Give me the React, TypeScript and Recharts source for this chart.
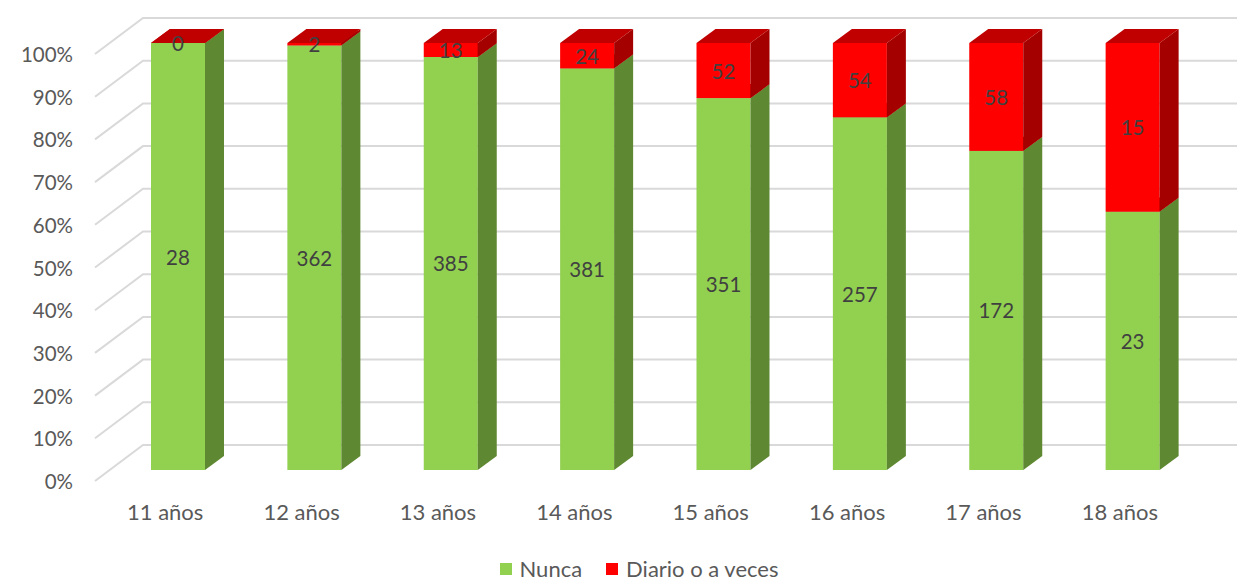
import { BarChart, Bar, XAxis, YAxis, CartesianGrid, Legend, LabelList } from 'recharts'

const categories = ['11 años', '12 años', '13 años', '14 años', '15 años', '16 años', '17 años', '18 años']
const nunca = [28, 362, 385, 381, 351, 257, 172, 23]
const diario = [0, 2, 13, 24, 52, 54, 58, 15]
const percentTicks = [0, 0.1, 0.2, 0.3, 0.4, 0.5, 0.6, 0.7, 0.8, 0.9, 1]

const data = categories.map((name, i) => ({ name, nunca: nunca[i], diario: diario[i] }))

const FONT = 'Lato, "Liberation Sans", sans-serif'
const TEXT = '#595959'
const DEPTH_X = 19
const DEPTH_Y = -14
const TOP_RED = '#c00000'

// 3D prism, like the Excel column: front face, right side, top
function Prism(props: any) {
    const { x, y, width: w, height: h, front, side, top } = props
    if (w == null || isNaN(x) || isNaN(y)) return null
    return (
        <g>
            <rect x={x} y={y} width={w} height={Math.max(h, 0)} fill={front} />
            <polygon
                points={`${x + w},${y} ${x + w + DEPTH_X},${y + DEPTH_Y} ${x + w + DEPTH_X},${y + h + DEPTH_Y} ${x + w},${y + h}`}
                fill={side}
            />
            <polygon
                points={`${x},${y} ${x + DEPTH_X},${y + DEPTH_Y} ${x + w + DEPTH_X},${y + DEPTH_Y} ${x + w},${y}`}
                fill={top}
            />
        </g>
    )
}

// floor diagonal + back wall line for each gridline
function GridLine(props: any) {
    const { y1, x2 } = props
    return (
        <g key={props.key}>
            <polyline
                points={`95,${y1 + 11} 143,${y1 - 25} ${x2 + 36},${y1 - 25}`}
                fill="none"
                stroke="#d9d9d9"
                strokeWidth={2}
            />
        </g>
    )
}

function YTick(props: any) {
    const { y, payload } = props
    return (
        <text x={73} y={y + 11} textAnchor="end" dominantBaseline="central" fontFamily={FONT} fontSize={20.5} fill={TEXT}>
            {Math.round(payload.value * 100)}%
        </text>
    )
}

function XTick(props: any) {
    const { x, y, payload } = props
    return (
        <text x={x - 13} y={y + 33} textAnchor="middle" dominantBaseline="central" fontFamily={FONT} fontSize={22} fill={TEXT}>
            {payload.value}
        </text>
    )
}

function CenterLabel(props: any) {
    const { x, y, width, height, value } = props
    return (
        <text
            x={x + width / 2}
            y={y + height / 2}
            textAnchor="middle"
            dominantBaseline="central"
            fontFamily={FONT}
            fontSize={20.5}
            fill="#404040"
        >
            {value}
        </text>
    )
}

function LegendContent() {
    const items = [
        { label: 'Nunca', color: '#92d050' },
        { label: 'Diario o a veces', color: '#ff0000' },
    ]
    return (
        <div
            style={{
                display: 'flex',
                justifyContent: 'center',
                gap: 24,
                paddingLeft: 36,
                fontFamily: FONT,
                fontSize: 22,
                color: TEXT,
            }}
        >
            {items.map((it) => (
                <div key={it.label} style={{ display: 'flex', alignItems: 'center' }}>
                    <span style={{ width: 12, height: 12, background: it.color, marginRight: 8, display: 'inline-block' }} />
                    {it.label}
                </div>
            ))}
        </div>
    )
}

export default function App() {
    return (
        <div style={{ position: 'absolute', left: 0, top: 0, width: 1242, height: 584, background: '#fff' }}>
            <BarChart
                width={1242}
                height={584}
                data={data}
                stackOffset="expand"
                barSize={54}
                margin={{ top: 43, right: 41, bottom: 64, left: 0 }}
            >
                <CartesianGrid vertical={false} horizontal={GridLine} />
                <XAxis dataKey="name" axisLine={false} tickLine={false} height={50} tick={<XTick />} interval={0} />
                <YAxis
                    width={110}
                    domain={[0, 1]}
                    ticks={percentTicks}
                    axisLine={false}
                    tickLine={false}
                    tick={<YTick />}
                />
                <Legend
                    verticalAlign="middle"
                    layout="horizontal"
                    wrapperStyle={{ top: 555, left: 0, width: 1242 }}
                    content={<LegendContent />}
                />
                <Bar
                    dataKey="nunca"
                    name="Nunca"
                    stackId="a"
                    fill="#92d050"
                    isAnimationActive={false}
                    shape={(p: any) => <Prism {...p} front="#92d050" side="#5f8832" top={TOP_RED} />}
                >
                    <LabelList dataKey="nunca" content={<CenterLabel />} />
                </Bar>
                <Bar
                    dataKey="diario"
                    name="Diario o a veces"
                    stackId="a"
                    fill="#ff0000"
                    isAnimationActive={false}
                    shape={(p: any) => <Prism {...p} front="#ff0000" side="#a50000" top={TOP_RED} />}
                >
                    <LabelList dataKey="diario" content={<CenterLabel />} />
                </Bar>
            </BarChart>
        </div>
    )
}
